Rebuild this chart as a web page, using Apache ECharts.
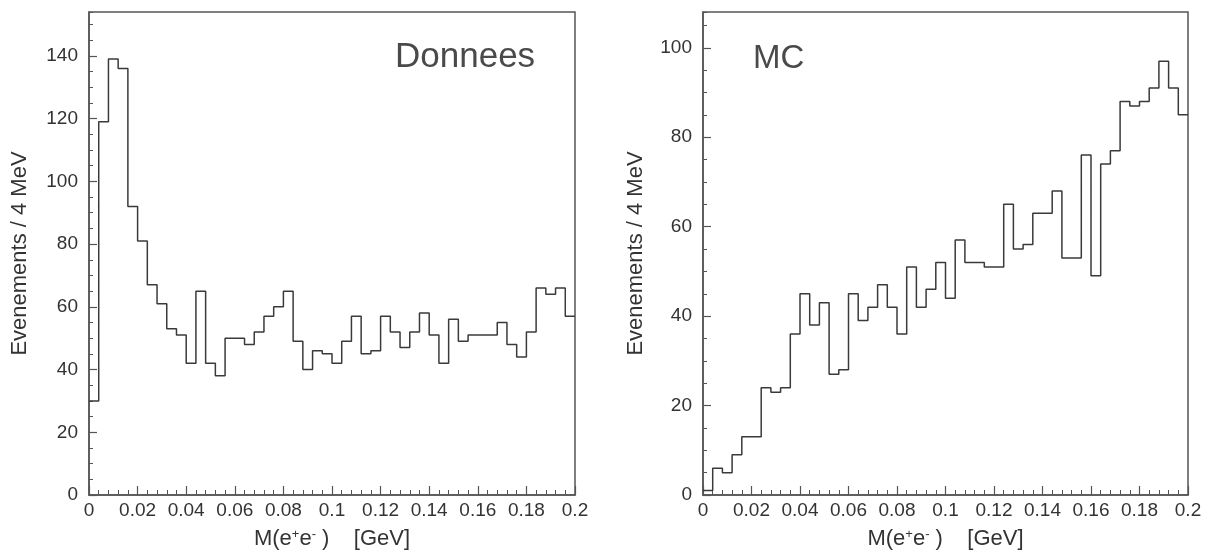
<!DOCTYPE html>
<html>
<head>
<meta charset="utf-8">
<script src="https://cdn.jsdelivr.net/npm/echarts@6/dist/echarts.min.js"></script>
<style>
html,body{margin:0;padding:0;background:#fff;}
#chart{width:1208px;height:555px;}
</style>
</head>
<body>
<div id="chart"></div>
<script>
// Bin width 4 MeV, range 0 - 0.2 GeV (50 bins)
const binWidth = 0.004;
const nBins = 50;
// Counts per bin
const dataCounts = [30,119,139,136,92,81,67,61,53,51,42,65,42,38,50,50,48,52,57,60,
                    65,49,40,46,45,42,49,57,45,46,57,52,47,52,58,51,42,56,49,51,
                    51,51,55,48,44,52,66,64,66,57];
const mcCounts   = [1,6,5,9,13,13,24,23,24,36,45,38,43,27,28,45,39,42,47,42,
                    36,51,42,46,52,44,57,52,52,51,51,65,55,56,63,63,68,53,53,76,
                    49,74,77,88,87,88,91,97,91,85];
const panelLabels = ['Donnees', 'MC'];
const xTitle = 'M(e{sup|+}e{sup|-} )    [GeV]';
const yTitle = 'Evenements / 4 MeV';

function stepData(counts) {
  const pts = counts.map((v, i) => [+(i * binWidth).toFixed(3), v]);
  pts.push([+(nBins * binWidth).toFixed(3), counts[counts.length - 1]]);
  return pts;
}

const FONT = "'Liberation Sans', Arial, Helvetica, sans-serif";
const INK = '#333';
const FRAME = '#555';

function xAxisCfg(gi) {
  return {
    gridIndex: gi, type: 'value', min: 0, max: 0.2, interval: 0.02,
    axisLine: { show: true, lineStyle: { color: FRAME, width: 1.5 } },
    axisTick: { show: true, inside: true, length: 9, lineStyle: { color: FRAME, width: 1.2 } },
    minorTick: { show: true, splitNumber: 5, length: 5, lineStyle: { color: FRAME, width: 1 } },
    splitLine: { show: false }, minorSplitLine: { show: false },
    axisLabel: { fontSize: 19, color: INK, fontFamily: FONT, margin: 6 },
    name: xTitle, nameLocation: 'middle', nameGap: 33,
    nameTextStyle: { fontSize: 22, color: INK, fontFamily: FONT,
      rich: { sup: { fontSize: 13, color: INK, fontFamily: FONT, verticalAlign: 'top' } } }
  };
}
function yMajor(gi, max, gap) {
  return {
    gridIndex: gi, type: 'value', min: 0, max: max, interval: 20,
    axisLine: { show: true, lineStyle: { color: FRAME, width: 1.5 } },
    axisTick: { show: true, inside: true, length: 8, lineStyle: { color: FRAME, width: 1.2 } },
    splitLine: { show: false },
    axisLabel: { fontSize: 19, color: INK, fontFamily: FONT, margin: 11, showMaxLabel: false },
    name: yTitle, nameLocation: 'middle', nameGap: gap, nameRotate: 90,
    nameTextStyle: { fontSize: 22, color: INK, fontFamily: FONT }
  };
}
function yMinor(gi, max) {
  return {
    gridIndex: gi, type: 'value', min: 0, max: max, interval: 5, position: 'left',
    axisLine: { show: false },
    axisTick: { show: true, inside: true, length: 4, lineStyle: { color: FRAME, width: 1 } },
    splitLine: { show: false }, axisLabel: { show: false }
  };
}

const chart = echarts.init(document.getElementById('chart'), null, { renderer: 'canvas' });
chart.setOption({
  backgroundColor: '#fff',
  animation: false,
  grid: [
    { left: 89, top: 12, width: 486, height: 483, show: true, borderColor: FRAME, borderWidth: 1.5, backgroundColor: 'transparent' },
    { left: 703, top: 12, width: 485, height: 483, show: true, borderColor: FRAME, borderWidth: 1.5, backgroundColor: 'transparent' }
  ],
  xAxis: [xAxisCfg(0), xAxisCfg(1)],
  yAxis: [yMajor(0, 154, 58), yMinor(0, 154), yMajor(1, 108, 56), yMinor(1, 108)],
  series: [
    { type: 'line', xAxisIndex: 0, yAxisIndex: 0, step: 'end', symbol: 'none',
      lineStyle: { color: '#3a3a3a', width: 1.5 }, data: stepData(dataCounts) },
    { type: 'line', xAxisIndex: 1, yAxisIndex: 2, step: 'end', symbol: 'none',
      lineStyle: { color: '#3a3a3a', width: 1.5 }, data: stepData(mcCounts) }
  ],
  graphic: [
    { type: 'text', left: 395, top: 40, style: { text: panelLabels[0], font: "35px " + FONT, fill: '#4a4a4a' } },
    { type: 'text', left: 753, top: 42, style: { text: panelLabels[1], font: "33px " + FONT, fill: '#4a4a4a' } }
  ]
});
</script>
</body>
</html>
